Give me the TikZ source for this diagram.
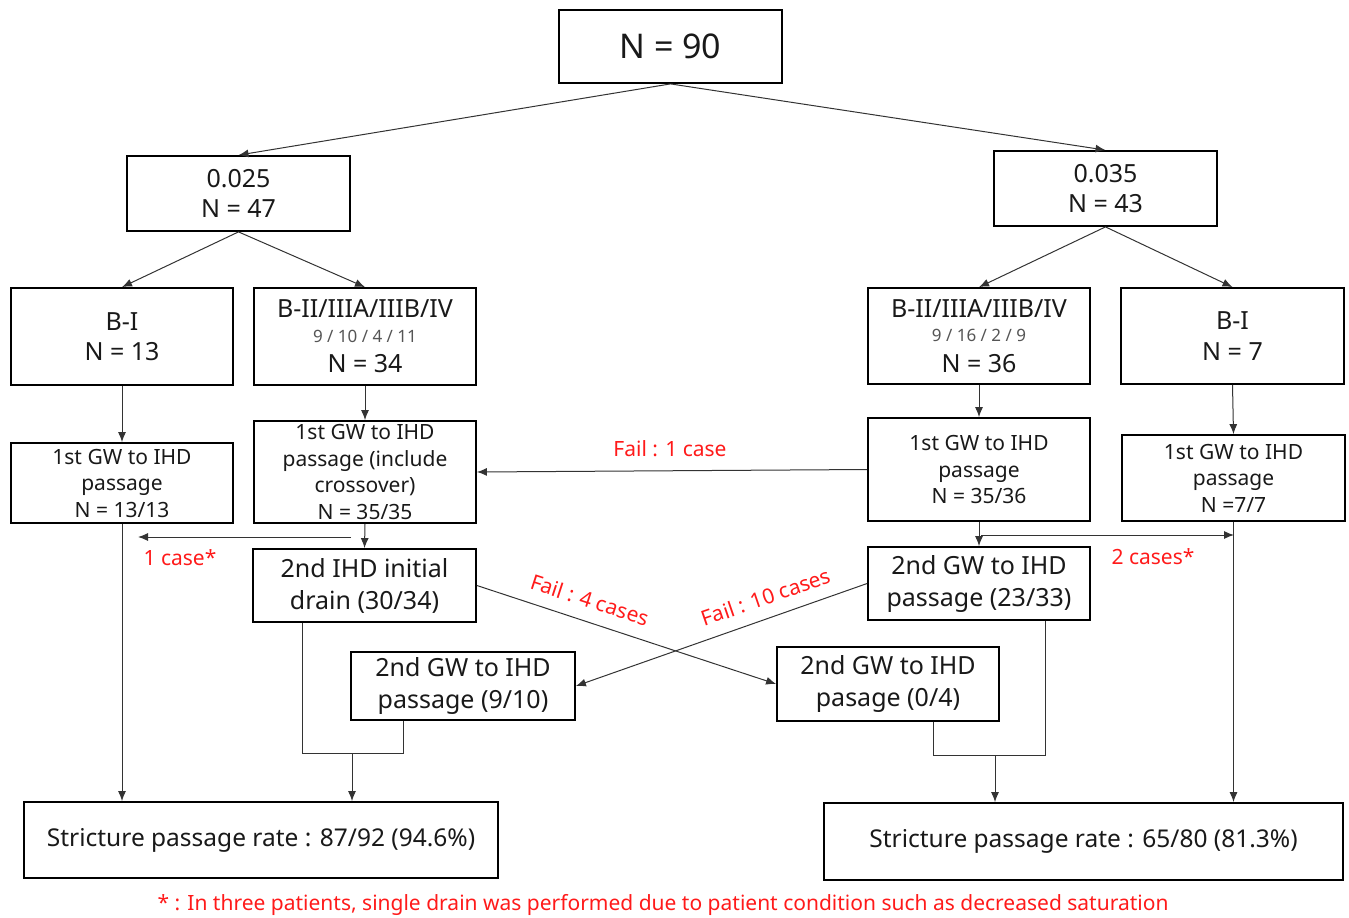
\documentclass[tikz,border=0pt]{standalone}
\usepackage{fontspec}
\setmainfont{Noto Sans}
\usetikzlibrary{arrows.meta}
\definecolor{numgray}{HTML}{555555}
\definecolor{linegray}{HTML}{333333}
\definecolor{failred}{HTML}{FF1A1A}
\begin{document}
\begin{tikzpicture}[x=1pt,y=-1pt,
  box/.style={draw=black,line width=1.8pt,inner sep=0pt,align=center,text=black!90},
  big/.style={font=\fontsize{34}{40}\selectfont},
  mid/.style={font=\fontsize{25}{30.5}\selectfont},
  sml/.style={font=\fontsize{21}{26.5}\selectfont},
  sec/.style={font=\fontsize{25}{32}\selectfont},
  res/.style={font=\fontsize{24.5}{28}\selectfont},
  conn/.style={draw=linegray,line width=1pt,-{Latex[length=10pt,width=8pt]}},
  plain/.style={draw=linegray,line width=1pt},
  lab/.style={text=failred,font=\fontsize{21}{24}\selectfont,inner sep=0pt}
]
\useasboundingbox (0,0) rectangle (1349,918);

% top
\node[box,big,minimum width=223,minimum height=73] (n90) at (670.5,46.5) {N = 90};
\node[box,mid,minimum width=223,minimum height=75] (a025) at (238.5,193.5) {0.025\\N = 47};
\node[box,mid,minimum width=223,minimum height=75] (a035) at (1105.5,188.5) {0.035\\N = 43};

% groups
\node[box,mid,minimum width=222,minimum height=97] (bl) at (122,336.5) {B-I\\N = 13};
\node[box,mid,minimum width=222,minimum height=97] (b2l) at (365,336.5)
  {B-II/IIIA/IIIB/IV\\[-6pt]{\fontsize{17}{19}\selectfont\color{numgray}9 / 10 / 4 / 11}\\N = 34};
\node[box,mid,minimum width=222,minimum height=96] (b2r) at (979,336)
  {B-II/IIIA/IIIB/IV\\[-6pt]{\fontsize{17}{19}\selectfont\color{numgray}9 / 16 / 2 / 9}\\N = 36};
\node[box,mid,minimum width=223,minimum height=96] (br) at (1232.5,336) {B-I\\N = 7};

% first GW
\node[box,sml,minimum width=222,minimum height=80] (g1l) at (122,483) {1st GW to IHD\\passage\\N = 13/13};
\node[box,sml,minimum width=222,minimum height=102] (g1x) at (365,472) {1st GW to IHD\\passage (include\\crossover)\\N = 35/35};
\node[box,sml,minimum width=222,minimum height=103] (g1r) at (979,469.5) {1st GW to IHD\\passage\\N = 35/36};
\node[box,sml,minimum width=223,minimum height=86] (g1rr) at (1233.5,478) {1st GW to IHD\\passage\\N =7/7};

% second step
\node[box,sec,minimum width=223,minimum height=73] (d2) at (364.5,585.5) {2nd IHD initial\\drain (30/34)};
\node[box,sec,minimum width=222,minimum height=73] (g2r) at (979,583.5) {2nd GW to IHD\\passage (23/33)};
\node[box,sec,minimum width=224,minimum height=68] (g2a) at (463,686) {2nd GW to IHD\\passage (9/10)};
\node[box,sec,minimum width=222,minimum height=74] (g2b) at (888,684) {2nd GW to IHD\\pasage (0/4)};

% results
\node[box,res,minimum width=474,minimum height=76] (sl) at (261,840) {Stricture passage rate : 87/92 (94.6\%)};
\node[box,res,minimum width=519,minimum height=77] (sr) at (1083.5,841.5) {Stricture passage rate : 65/80 (81.3\%)};

% connectors top
\draw[conn] (n90.south) -- (a025.north);
\draw[conn] (n90.south) -- (a035.north);
\draw[conn] (a025.south) -- (bl.north);
\draw[conn] (a025.south) -- (b2l.north);
\draw[conn] (a035.south) -- (b2r.north);
\draw[conn] (a035.south) -- (br.north);
\draw[conn] (bl.south) -- (g1l.north);
\draw[conn] (b2l.south) -- (g1x.north);
\draw[conn] (b2r.south) -- (g1r.north);
\draw[conn] (br.south) -- (g1rr.north);

% fail 1 case
\draw[conn] (g1r.west) -- (g1x.east);
\node[lab] (f1) at (670,449) {Fail : 1 case};

% to second step
\draw[conn] (g1x.south) -- (d2.north);
\draw[conn] (g1r.south) -- (g2r.north);

% single drain side arrows
\coordinate (c1a) at (351,537);
\coordinate (c1b) at (138,537);
\draw[conn] (c1a) -- (c1b);
\node[lab] (l1) at (180,558) {1 case*};
\coordinate (c2a) at (981,535);
\coordinate (c2b) at (1234,535);
\draw[conn] (c2a) -- (c2b);
\node[lab] (l2) at (1153,557) {2 cases*};

% crossing fails
\draw[conn] (d2.east) -- (g2b.west);
\draw[conn] (g2r.west) -- (g2a.east);
\node[lab,rotate=-18] (f4) at (590,600) {Fail : 4 cases};
\node[lab,rotate=19] (f10) at (766,597) {Fail : 10 cases};

% left results
\draw[conn] (g1l.south) -- (g1l.south |- sl.north);
\coordinate (ml) at (352,753);
\draw[plain] (d2.south -| 302,0) -- (302,753) -- (403,753) -- (g2a.south -| 403,0);
\draw[conn] (ml) -- (ml |- sl.north);

% right results
\coordinate (mr) at (995,755);
\draw[plain] (g2b.south -| 933,0) -- (933,755) -- (1045,755) -- (g2r.south -| 1045,0);
\draw[conn] (mr) -- (mr |- sr.north);
\draw[conn] (g1rr.south) -- (g1rr.south |- sr.north);

% footnote
\node[lab] (fn) at (663,905) {* : In three patients, single drain was performed due to patient condition such as decreased saturation};
\end{tikzpicture}
\end{document}
